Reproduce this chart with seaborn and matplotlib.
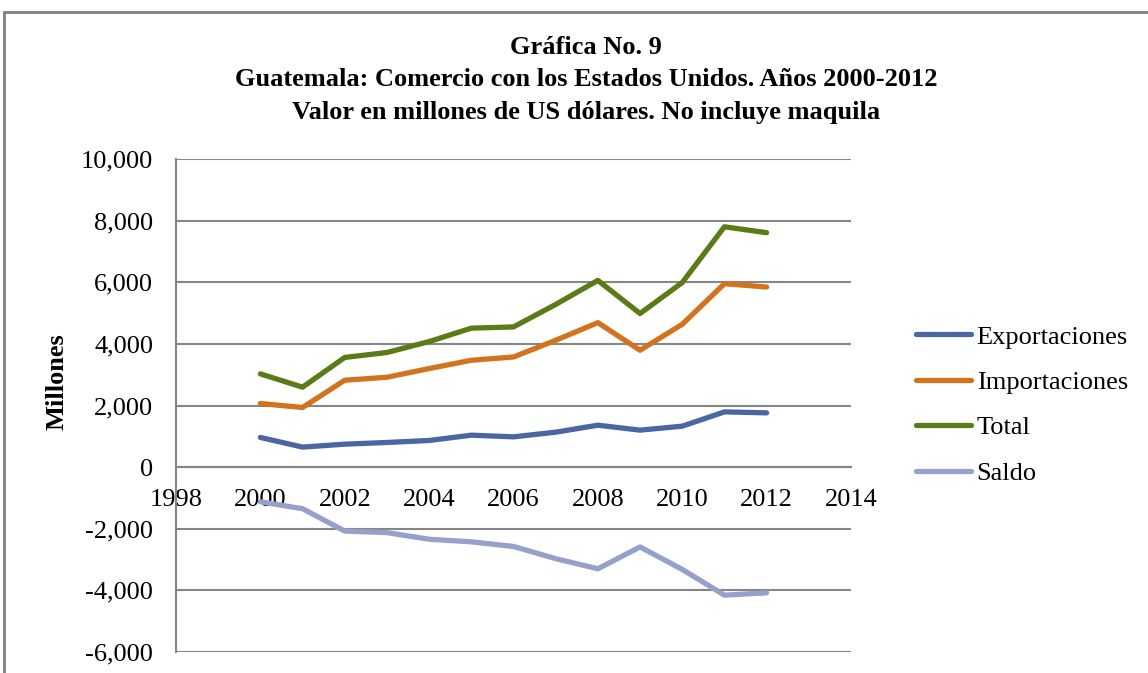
import seaborn as sns
import pandas as pd
import matplotlib.pyplot as plt
from matplotlib.patches import Rectangle
from matplotlib.ticker import FuncFormatter, MultipleLocator

# values (millones de US$)
years = [2000, 2001, 2002, 2003, 2004, 2005, 2006, 2007, 2008, 2009, 2010, 2011, 2012]
exportaciones = [963, 650, 745, 800, 865, 1037, 983, 1134, 1361, 1200, 1329, 1793, 1761]
importaciones = [2064, 1935, 2820, 2917, 3199, 3468, 3575, 4116, 4690, 3792, 4635, 5954, 5845]
total = [3027, 2595, 3560, 3720, 4075, 4510, 4550, 5280, 6060, 4985, 5990, 7800, 7608]
saldo = [-1124, -1350, -2075, -2125, -2340, -2425, -2575, -2970, -3300, -2590, -3320, -4155, -4080]

series = ['Exportaciones', 'Importaciones', 'Total', 'Saldo']
colors = ['#4b66a2', '#d4731d', '#5a7c18', '#95a1cb']

df = pd.DataFrame({
    'Año': years * 4,
    'Valor': exportaciones + importaciones + total + saldo,
    'Serie': [s for s in series for _ in years],
})

sns.set_style("white")
plt.rcParams['font.family'] = ['Liberation Serif', 'DejaVu Serif']
plt.rcParams['text.color'] = 'black'

W, H = 1148, 673
fig = plt.figure(figsize=(W / 100, H / 100), dpi=100)
ax = fig.add_axes([176 / W, 1 - 652 / H, (851 - 176) / W, (652 - 159) / H])

sns.lineplot(data=df, x='Año', y='Valor', hue='Serie', palette=colors,
             hue_order=series, linewidth=3.8, ax=ax, zorder=3,
             solid_capstyle='round', solid_joinstyle='round')

grey = '#868686'
ax.set_xlim(1998, 2014)
ax.set_ylim(-6000, 10000)
ax.xaxis.set_major_locator(MultipleLocator(2))
ax.yaxis.set_major_locator(MultipleLocator(2000))
ax.yaxis.set_major_formatter(FuncFormatter(lambda v, p: f"{v:,.0f}"))
ax.xaxis.set_major_formatter(FuncFormatter(lambda v, p: f"{v:.0f}"))

ax.yaxis.grid(True, color=grey, linewidth=1.5)
ax.xaxis.grid(False)
for s in ['top', 'right']:
    ax.spines[s].set_visible(False)
ax.spines['bottom'].set_position(('data', 0))
ax.spines['bottom'].set_color(grey)
ax.spines['bottom'].set_linewidth(1.5)
ax.spines['left'].set_color(grey)
ax.spines['left'].set_linewidth(1.5)
ax.tick_params(axis='both', direction='out', color=grey, width=1.5, length=4.5,
               labelsize=19, labelcolor='black')
ax.tick_params(axis='x', pad=11.5)
ax.tick_params(axis='y', pad=12)
ax.set_xlabel('')
ax.set_ylabel('')

handles, labels = ax.get_legend_handles_labels()
leg = ax.legend(handles, labels, loc='center left', bbox_to_anchor=(916 / W, 1 - 405 / H),
                bbox_transform=fig.transFigure, frameon=False, fontsize=19,
                handlelength=2.1, handletextpad=0.2, labelspacing=0.83, borderpad=0,
                borderaxespad=0)
for t in leg.get_texts():
    t.set_color('black')

# titles
cx = 586 / W
title_lines = ['Gráfica No. 9',
               'Guatemala: Comercio con los Estados Unidos. Años 2000-2012',
               'Valor en millones de US dólares. No incluye maquila']
for line, yy in zip(title_lines, [47, 80, 113]):
    fig.text(cx, 1 - yy / H, line, ha='center', va='center', fontsize=19,
             fontweight='bold', color='black')
fig.text(57 / W, 1 - 382 / H, 'Millones', rotation=90, ha='center', va='center',
         fontsize=19, fontweight='bold', color='black')

# outer chart border
fig.patches.append(Rectangle((4 / W, -0.1), 2, 1 - 12 / H + 0.1, transform=fig.transFigure,
                             fill=False, edgecolor='#7f7f7f', linewidth=2))

plt.savefig('out.png', dpi=100)
